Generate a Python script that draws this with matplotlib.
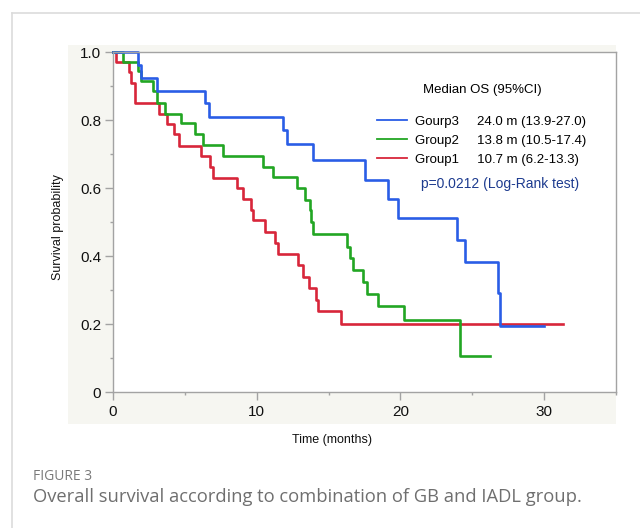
import matplotlib.pyplot as plt
from matplotlib.patches import Rectangle
from matplotlib.lines import Line2D
from matplotlib.ticker import MultipleLocator

plt.rcParams['font.family'] = ['Liberation Sans', 'DejaVu Sans']

# Kaplan-Meier steps (time in months, survival)
group1_t = [0, 0.2, 1.1, 1.25, 1.5, 3.2, 3.75, 4.22, 4.62, 6.13, 6.75, 6.98, 8.6, 9.07,
            9.6, 9.75, 10.6, 11.3, 11.45, 12.85, 13.25, 13.67, 14.13, 14.25, 15.87, 31.3]
group1_s = [1.0, 0.97, 0.94, 0.91, 0.849, 0.818, 0.788, 0.758, 0.724, 0.694, 0.662, 0.630, 0.599, 0.567,
            0.535, 0.506, 0.471, 0.439, 0.406, 0.373, 0.339, 0.305, 0.271, 0.239, 0.199, 0.199]

group2_t = [0, 0.7, 1.74, 1.95, 2.8, 3.05, 3.6, 4.75, 5.7, 6.25, 7.65, 10.46, 11.16, 12.8,
            13.36, 13.7, 13.8, 13.94, 16.26, 16.49, 16.68, 17.38, 17.65, 18.42, 20.25, 24.15, 26.24]
group2_s = [1.0, 0.97, 0.943, 0.914, 0.884, 0.85, 0.819, 0.79, 0.76, 0.726, 0.695, 0.663, 0.632, 0.599,
            0.565, 0.535, 0.50, 0.466, 0.427, 0.393, 0.359, 0.324, 0.287, 0.253, 0.212, 0.107, 0.107]

group3_t = [0, 1.74, 1.97, 3.08, 6.4, 6.7, 11.85, 12.09, 13.94, 17.54, 19.16, 19.85,
            23.92, 24.5, 26.81, 26.93, 30.0]
group3_s = [1.0, 0.962, 0.924, 0.886, 0.85, 0.81, 0.771, 0.729, 0.682, 0.624, 0.569, 0.511,
            0.447, 0.383, 0.29, 0.194, 0.194]

names = ['Gourp3', 'Group2', 'Group1']
medians = ['24.0 m (13.9-27.0)', '13.8 m (10.5-17.4)', '10.7 m (6.2-13.3)']
colors = ['#2a5de6', '#22a623', '#d8263a']
p_text = 'p=0.0212 (Log-Rank test)'

fig = plt.figure(figsize=(6.4, 5.28), dpi=100)

# page frame lines and beige panel
fig.add_artist(Line2D([12 / 640, 12 / 640], [0, 1 - 13 / 528], color='#dcdcdc', lw=1.2))
fig.add_artist(Line2D([12 / 640, 1], [1 - 13 / 528, 1 - 13 / 528], color='#dcdcdc', lw=1.2))
fig.add_artist(Rectangle((68 / 640, 104 / 528), 548 / 640, 379 / 528,
                         facecolor='#f6f6f1', edgecolor='none', zorder=0))

ax = fig.add_axes([113 / 640, 136 / 528, 503 / 640, 340 / 528])
ax.set_facecolor('white')

ax.step(group1_t, group1_s, where='post', color=colors[2], lw=1.9, clip_on=False)
ax.step(group2_t, group2_s, where='post', color=colors[1], lw=1.9, clip_on=False)
ax.step(group3_t, group3_s, where='post', color=colors[0], lw=1.9, clip_on=False)

ax.set_xlim(0, 35)
ax.set_ylim(0, 1.0)
ax.xaxis.set_major_locator(MultipleLocator(10))
ax.xaxis.set_minor_locator(MultipleLocator(5))
ax.yaxis.set_minor_locator(MultipleLocator(0.1))
ax.set_yticks([0, 0.2, 0.4, 0.6, 0.8, 1.0])
ax.set_yticklabels(['0', '0.2', '0.4', '0.6', '0.8', '1.0'])

for s in ax.spines.values():
    s.set_color('#a3a3a3')
    s.set_linewidth(1.0)
ax.tick_params(which='major', direction='out', length=5.5, width=1.0, color='#a3a3a3',
               labelsize=11, labelcolor='#111111')
ax.tick_params(which='minor', direction='out', length=2.5, width=1.0, color='#a3a3a3')
ax.tick_params(axis='x', which='major', pad=4)
ax.tick_params(axis='y', which='major', pad=3)

ax.set_xlabel('Time (months)', fontsize=9, color='#111111')
ax.set_ylabel('Survival probability', fontsize=9, color='#111111')
ax.xaxis.set_label_coords(0.435, -0.125)
ax.yaxis.set_label_coords(-0.097, 0.485)

handles = [Line2D([], [], color=c, lw=1.3) for c in colors]
labels = [n + '     ' + m for n, m in zip(names, medians)]
leg = ax.legend(handles, labels, title='Median OS (95%CI)', loc='upper left',
                bbox_to_anchor=(0.525, 0.905), frameon=False, fontsize=9.5,
                title_fontsize=9.5, handlelength=2.3, handletextpad=0.6,
                labelspacing=0.5, borderpad=0, borderaxespad=0)
leg._legend_box.sep = 14

ax.text(0.612, 0.612, p_text, transform=ax.transAxes, color='#1d3b8f', fontsize=10,
        va='center', ha='left')

fig.text(33 / 640, 1 - 476 / 528, 'FIGURE 3', fontsize=10, color='#7a7a7a',
         family=['Open Sans', 'DejaVu Sans'], va='center')
fig.text(33 / 640, 1 - 497 / 528, 'Overall survival according to combination of GB and IADL group.',
         fontsize=13.2, color='#6f6f6f', family=['Open Sans', 'DejaVu Sans'], va='center')

fig.savefig('out.png', dpi=100)
